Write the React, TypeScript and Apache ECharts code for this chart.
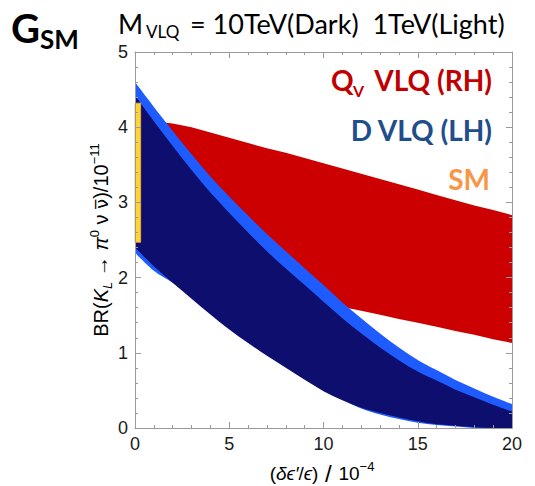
import React, { useEffect, useRef } from "react";
import * as echarts from "echarts";

// x grid of the bands (δε'/ε in units of 1e-4)
const xs = [0, 1, 2, 3, 4, 5, 6, 7, 8, 9, 10, 11, 12, 13, 14, 15, 16, 17, 18, 19, 20];
// Q_V VLQ (RH) band
const redUpper = [4.12, 4.08, 4.05, 4.0, 3.93, 3.86, 3.79, 3.72, 3.66, 3.59, 3.52, 3.45, 3.38, 3.31, 3.24, 3.17, 3.1, 3.03, 2.96, 2.9, 2.83];
const redLower = [2.5, 2.25, 2.12, 2.04, 1.99, 1.93, 1.88, 1.83, 1.77, 1.72, 1.67, 1.61, 1.56, 1.505, 1.45, 1.4, 1.345, 1.29, 1.24, 1.18, 1.13];
// D VLQ (LH), M = 1 TeV (light)
const lightUpper = [4.6, 4.27, 3.95, 3.64, 3.345, 3.08, 2.825, 2.58, 2.35, 2.125, 1.9, 1.67, 1.46, 1.255, 1.07, 0.905, 0.77, 0.637, 0.525, 0.417, 0.32];
const lightLower = [2.33, 2.09, 1.93, 1.74, 1.53, 1.33, 1.15, 0.97, 0.81, 0.65, 0.5, 0.38, 0.26, 0.18, 0.12, 0.07, 0.04, 0.02, 0, 0, 0];
// D VLQ (LH), M = 10 TeV (dark)
const darkLower = [2.4, 2.15, 1.93, 1.72, 1.51, 1.31, 1.13, 0.96, 0.8, 0.64, 0.49, 0.37, 0.27, 0.2, 0.14, 0.09, 0.05, 0.03, 0.01, 0, 0];
const darkUpper = [4.42, 4.08, 3.75, 3.43, 3.13, 2.86, 2.6, 2.35, 2.12, 1.9, 1.68, 1.46, 1.26, 1.07, 0.9, 0.75, 0.63, 0.51, 0.41, 0.31, 0.22];
// SM range
const smX = [0, 0.3];
const smY = [2.47, 4.32];

const xTicks = { min: 0, max: 20, interval: 5 };
const yTicks = { min: 0, max: 5, interval: 1 };

const AXIS_COLOR = "#9a9a9a";
const TICK_FONT = "Liberation Sans, Arial, DejaVu Sans, sans-serif";
const TEXT_FONT = "Lato, Open Sans, sans-serif";

type Pt = number[];

// Catmull-Rom style cubic path through pixel points (drawing only)
function curvePath(pts: Pt[], smooth: boolean, start: "M" | "L"): string {
  let d = `${start}${pts[0][0].toFixed(2)},${pts[0][1].toFixed(2)}`;
  for (let i = 0; i < pts.length - 1; i++) {
    const p0 = pts[Math.max(0, i - 1)];
    const p1 = pts[i];
    const p2 = pts[i + 1];
    const p3 = pts[Math.min(pts.length - 1, i + 2)];
    if (!smooth) {
      d += ` L${p2[0].toFixed(2)},${p2[1].toFixed(2)}`;
      continue;
    }
    const c1 = [p1[0] + (p2[0] - p0[0]) / 6, p1[1] + (p2[1] - p0[1]) / 6];
    const c2 = [p2[0] - (p3[0] - p1[0]) / 6, p2[1] - (p3[1] - p1[1]) / 6];
    d += ` C${c1[0].toFixed(2)},${c1[1].toFixed(2)} ${c2[0].toFixed(2)},${c2[1].toFixed(2)} ${p2[0].toFixed(2)},${p2[1].toFixed(2)}`;
  }
  return d;
}

function bandSeries(name: string, lower: number[], upper: number[], color: string, smooth: boolean, z: number) {
  return {
    name,
    type: "custom",
    z,
    clip: true,
    silent: true,
    data: xs.map((x, i) => [x, lower[i], upper[i]]),
    encode: { x: 0, y: [1, 2] },
    renderItem: (params: any, api: any) => {
      if (params.dataIndex !== 0) return null;
      const top = xs.map((x, i) => api.coord([x, upper[i]]));
      const bot = xs.map((x, i) => api.coord([x, lower[i]])).reverse();
      const d = curvePath(top, smooth, "M") + " " + curvePath(bot, smooth, "L") + " Z";
      return { type: "path", shape: { pathData: d }, style: { fill: color, stroke: null } };
    },
  };
}

function axisCommon(showLabel: boolean, minorSplit: number) {
  return {
    axisLine: { show: true, onZero: false, lineStyle: { color: AXIS_COLOR, width: 1 } },
    axisTick: { show: true, inside: true, length: 6, lineStyle: { color: AXIS_COLOR, width: 1 } },
    minorTick: { show: true, splitNumber: minorSplit, length: 3, lineStyle: { color: AXIS_COLOR, width: 1 } },
    splitLine: { show: false },
    axisLabel: {
      show: showLabel,
      fontFamily: TICK_FONT,
      fontSize: 18,
      color: "#1a1a1a",
      margin: 7,
    },
    z: 10,
  };
}

export default function App() {
  const ref = useRef<HTMLDivElement>(null);
  useEffect(() => {
    if (!ref.current) return;
    const chart = echarts.init(ref.current, null, { renderer: "svg" });
    const nameRich = {
      n: { fontFamily: TICK_FONT, fontSize: 20, color: "#1a1a1a", lineHeight: 26, verticalAlign: "middle" },
      nb: { fontFamily: "DejaVu Sans, sans-serif", fontSize: 18, color: "#1a1a1a", lineHeight: 26, verticalAlign: "middle" },
      i: { fontFamily: TICK_FONT, fontSize: 20, fontStyle: "italic", color: "#1a1a1a", lineHeight: 26, verticalAlign: "middle" },
      b: { fontFamily: TICK_FONT, fontSize: 25, color: "#1a1a1a", lineHeight: 26, verticalAlign: "middle" },
      sb: { fontFamily: TICK_FONT, fontSize: 13, fontStyle: "italic", color: "#1a1a1a", lineHeight: 12, verticalAlign: "bottom" },
      sp: { fontFamily: TICK_FONT, fontSize: 13, color: "#1a1a1a", lineHeight: 12, verticalAlign: "top" },
    };
    const xRich = {
      ...nameRich,
      n: { ...nameRich.n, fontSize: 19 },
      i: { ...nameRich.i, fontSize: 19 },
      b: { ...nameRich.b, fontSize: 24 },
    };
    const txt = (x: number, y: number, text: string, font: string, fill: string, align: string) => ({
      type: "text",
      x,
      y,
      z: 100,
      style: { text, font, fill, verticalAlign: "middle", align },
    });
    const option = {
      animation: false,
      backgroundColor: "#ffffff",
      grid: { left: 135, top: 52, width: 377, height: 376, containLabel: false },
      xAxis: [
        { type: "value", position: "bottom", ...xTicks, ...axisCommon(true, 5) },
        { type: "value", position: "top", ...xTicks, ...axisCommon(false, 5) },
      ],
      yAxis: [
        { type: "value", position: "left", ...yTicks, ...axisCommon(true, 5) },
        { type: "value", position: "right", ...yTicks, ...axisCommon(false, 5) },
      ],
      series: [
        bandSeries("Q_V VLQ (RH)", redLower, redUpper, "#cc0000", false, 2),
        bandSeries("D VLQ (LH) 1TeV", lightLower, lightUpper, "#1e5cff", true, 3),
        bandSeries("D VLQ (LH) 10TeV", darkLower, darkUpper, "#0e0e6e", true, 4),
        {
          name: "SM",
          type: "custom",
          data: [[smX[0], smX[1], smY[0], smY[1]]],
          encode: { x: [0, 1], y: [2, 3] },
          z: 5,
          renderItem: (params: any, api: any) => {
            const p1 = api.coord([api.value(0), api.value(3)]);
            const p2 = api.coord([api.value(1), api.value(2)]);
            return {
              type: "rect",
              shape: { x: p1[0], y: p1[1], width: p2[0] - p1[0], height: p2[1] - p1[1] },
              style: { fill: "#fcd630", stroke: "#f2b440", lineWidth: 0.8 },
            };
          },
        },
      ],
      graphic: [
        txt(11, 28, "G", "bold 40px " + TEXT_FONT, "#000", "left"),
        txt(40, 39, "SM", "bold 26px " + TEXT_FONT, "#000", "left"),
        txt(118, 23, "M", "27px " + TEXT_FONT, "#000", "left"),
        txt(146, 31, "VLQ", "17px " + TEXT_FONT, "#000", "left"),
        txt(190, 23, "= 10TeV(Dark)  1TeV(Light)", "27px " + TEXT_FONT, "#000", "left"),
        txt(331, 80, "Q", "bold 28px " + TEXT_FONT, "#c00000", "left"),
        txt(353, 90, "V", "bold 16px " + TEXT_FONT, "#c00000", "left"),
        txt(492, 80, "VLQ (RH)", "bold 28px " + TEXT_FONT, "#c00000", "right"),
        txt(492, 130, "D VLQ (LH)", "bold 28px " + TEXT_FONT, "#1f4e8c", "right"),
        txt(490, 179, "SM", "bold 28px " + TEXT_FONT, "#f79646", "right"),
        {
          type: "text",
          x: 101,
          y: 240,
          z: 100,
          rotation: Math.PI / 2,
          style: {
            text: "{n|BR(}{i|K}{sb|L}{n| → }{i|π}{sp|0}{n| ν }{nb|ν̅}{n|)/10}{sp|−11}",
            rich: nameRich,
            align: "center",
            verticalAlign: "middle",
          },
        },
        {
          type: "text",
          x: 322,
          y: 473,
          z: 100,
          style: {
            text: "{n|(}{i|δϵ′}{n|/}{i|ϵ}{n|)}{b| / }{n|10}{sp|−4}",
            rich: xRich,
            align: "center",
            verticalAlign: "middle",
          },
        },
      ],
    };
    chart.setOption(option as any);
    return () => chart.dispose();
  }, []);
  return (
    <div
      ref={ref}
      style={{ position: "fixed", left: 0, top: 0, width: 535, height: 486, background: "#fff" }}
    />
  );
}
